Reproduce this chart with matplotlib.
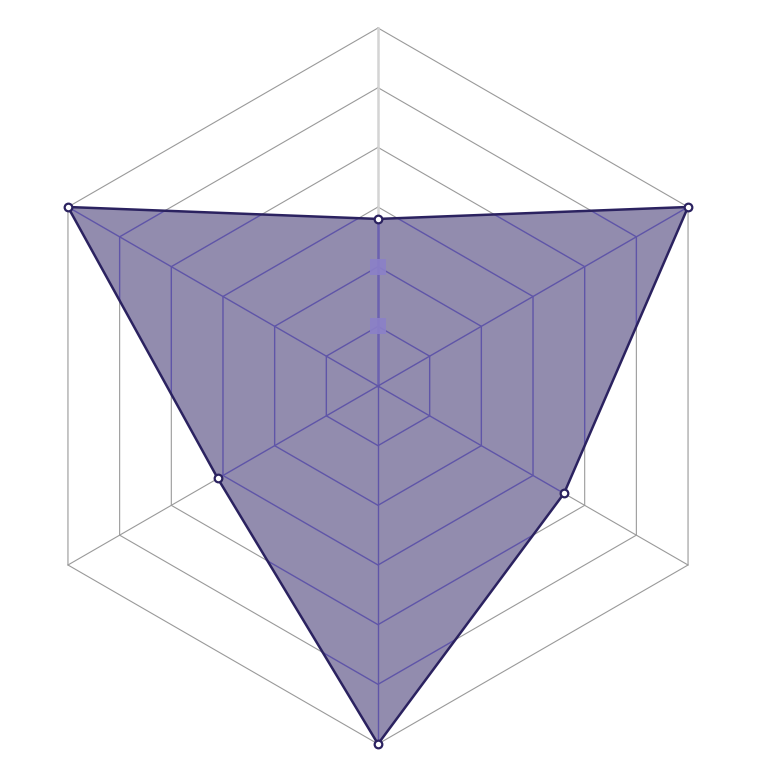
#! /usr/bin/env python3
# radar chart, hexagon grid, one filled series

import numpy as np
import matplotlib.pyplot as plt
from matplotlib.patches import Polygon

# input
#
axes_names = ['A', 'B', 'C', 'D', 'E', 'F']   # top, then clockwise
values = [2.8, 6.0, 3.6, 6.0, 3.1, 6.0]
max_value = 6
rings = [1, 2, 3, 4, 5, 6]
square_values = [1.0, 2.0]   # small squares on the top axis

def xy(r, ang):
  return r * np.cos(ang), r * np.sin(ang)

def main():
  n = len(axes_names)
  ang = np.pi / 2 - np.arange(n) * 2 * np.pi / n

  fig = plt.figure(figsize=(7.74, 7.74), dpi=100)
  ax = fig.add_axes([0, 0, 1, 1])
  ax.set_axis_off()
  px = 358 / max_value
  ax.set_xlim(-378 / px, (774 - 378) / px)
  ax.set_ylim(-(774 - 386) / px, 386 / px)

  # grid
  #
  def grid(color, lw, clip=None, axis_color=None, axis_lw=None):
    arts = []
    for r in rings:
      gx, gy = xy(r, np.append(ang, ang[0]))
      arts += ax.plot(gx, gy, color=color, lw=lw, zorder=1 if clip is None else 3)
    for i, a in enumerate(ang):
      sx, sy = xy(np.array([0, max_value]), a)
      c, w = color, lw
      if i == 0 and axis_color is not None:
        c, w = axis_color, axis_lw
      arts += ax.plot(sx, sy, color=c, lw=w, zorder=1 if clip is None else 3)
    if clip is not None:
      for a in arts:
        a.set_clip_path(clip)

  grid('#9a9a9a', 0.8, axis_color='#d4d4d4', axis_lw=1.8)

  # series
  #
  vx, vy = xy(np.array(values), ang)
  poly = Polygon(np.column_stack([vx, vy]), closed=True,
                 facecolor='#928cae', edgecolor='none', zorder=2)
  ax.add_patch(poly)
  grid('#5f55a8', 1.0, clip=poly, axis_color='#6b61b0', axis_lw=1.8)

  ax.plot(np.append(vx, vx[0]), np.append(vy, vy[0]),
          color='#2b2260', lw=1.8, zorder=4)
  ax.plot(vx, vy, 'o', ms=5.5, mfc='white', mec='#2b2260', mew=1.6, zorder=5)

  sx, sy = xy(np.array(square_values), ang[0])
  ax.plot(sx, sy, 's', ms=11, color='#8b80c8', alpha=0.9, mew=0, zorder=5)

  # output
  #
  plt.savefig('out.png', dpi=100)

if __name__ == '__main__':
  main()
